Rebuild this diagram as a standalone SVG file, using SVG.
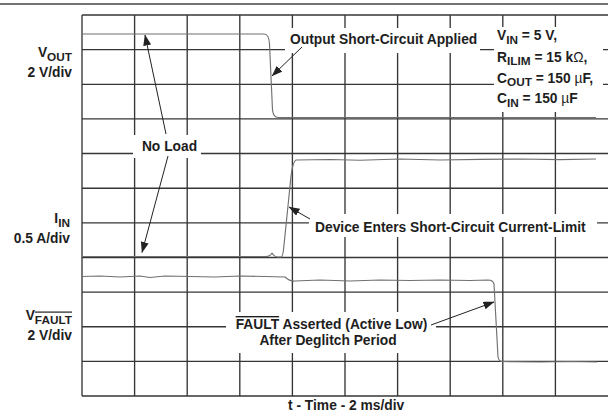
<svg xmlns="http://www.w3.org/2000/svg" width="608" height="417" viewBox="0 0 608 417">
<style>
text{font-family:"Liberation Sans",Arial,Helvetica,sans-serif;font-weight:bold;font-size:13.8px;fill:#1e1e1e}
.sub{font-size:11.8px}
.sym{font-weight:normal}
.grid line{stroke:#363636;stroke-width:1.35}
.bg{fill:#fff}
.trace{fill:none;stroke:#707070;stroke-width:1.15;stroke-linejoin:round}
.arrow{stroke:#222;stroke-width:1;fill:none;marker-end:url(#ah)}
</style>
<defs>
<marker id="ah" markerUnits="userSpaceOnUse" markerWidth="11" markerHeight="9" refX="10.5" refY="4" orient="auto">
<path d="M0,0 L11,4 L0,8 z" fill="#222"/>
</marker>
</defs>
<rect width="608" height="417" fill="#fff"/>
<line x1="0" y1="4" x2="608" y2="4" stroke="#444" stroke-width="1.5"/>
<g id="grid" class="grid">
<line x1="82" y1="15" x2="82" y2="396"/>
<line x1="134.6" y1="15" x2="134.6" y2="396"/>
<line x1="187.2" y1="15" x2="187.2" y2="396"/>
<line x1="239.8" y1="15" x2="239.8" y2="396"/>
<line x1="292.4" y1="15" x2="292.4" y2="396"/>
<line x1="345" y1="15" x2="345" y2="396"/>
<line x1="397.6" y1="15" x2="397.6" y2="396"/>
<line x1="450.2" y1="15" x2="450.2" y2="396"/>
<line x1="502.8" y1="15" x2="502.8" y2="396"/>
<line x1="555.4" y1="15" x2="555.4" y2="396"/>
<line x1="82" y1="15" x2="608" y2="15"/>
<line x1="82" y1="49.6" x2="608" y2="49.6"/>
<line x1="82" y1="84.3" x2="608" y2="84.3"/>
<line x1="82" y1="118.9" x2="608" y2="118.9"/>
<line x1="82" y1="153.5" x2="608" y2="153.5"/>
<line x1="82" y1="188.2" x2="608" y2="188.2"/>
<line x1="82" y1="222.8" x2="608" y2="222.8"/>
<line x1="82" y1="257.5" x2="608" y2="257.5"/>
<line x1="82" y1="292.1" x2="608" y2="292.1"/>
<line x1="82" y1="326.7" x2="608" y2="326.7"/>
<line x1="82" y1="361.4" x2="608" y2="361.4"/>
<line x1="82" y1="396" x2="608" y2="396"/>
</g>
<g id="label-backgrounds">
<rect class="bg" x="285" y="28" width="195" height="25"/>
<rect class="bg" x="494" y="27" width="109" height="85"/>
<rect class="bg" x="133" y="135" width="68" height="23"/>
<rect class="bg" x="309" y="214" width="288" height="23"/>
<rect class="bg" x="226" y="312" width="210" height="41"/>
</g>
<g id="traces">
<path id="vout-trace" class="trace" d="M82,34 H264 Q269,34 269.5,44 L272.5,110 Q273.5,117.5 278,117.5 H596"/>
<path id="iin-trace" class="trace" d="M82,256.5 H266 Q270,256.5 272,253 Q274,256.5 277,257 L281,257 Q283,257 284,245 L288,206 L291,176 Q293,161 296,160 L330,159.5 L360,160.2 L400,159 L440,160 L480,159.4 L520,159 L560,159.6 L596,159"/>
<path id="vfault-trace" class="trace" d="M82,276.5 L100,276 L120,277 L140,276 L150,277.5 L165,276 L190,276.5 L215,277 L240,276 L265,276.5 L285,277 Q290,281.5 295,281 L320,280 L350,281 L380,280 L410,280.5 L440,280 L470,280.5 L488,280 Q493,280 494,284 L498,357 Q499,361.5 502,361.5 L540,362 L570,361.5 L597,362"/>
</g>
<g id="connectors">
<line class="arrow" x1="166" y1="134" x2="145" y2="35"/>
<line class="arrow" x1="168" y1="156" x2="142" y2="252.5"/>
<line class="arrow" x1="302" y1="47" x2="272" y2="76"/>
<line class="arrow" x1="310" y1="219" x2="289" y2="207"/>
<line class="arrow" x1="431" y1="325" x2="494" y2="302"/>
</g>
<g id="axis-labels">
<text x="72" y="57" text-anchor="end">V<tspan class="sub" dy="3.5">OUT</tspan></text>
<text x="72" y="77" text-anchor="end">2 V/div</text>
<text x="70" y="223" text-anchor="end">I<tspan class="sub" dy="3.5">IN</tspan></text>
<text x="70" y="243" text-anchor="end">0.5 A/div</text>
<text x="72" y="320" text-anchor="end">V<tspan class="sub" dy="3.5" text-decoration="overline">FAULT</tspan></text>
<text x="72" y="340" text-anchor="end">2 V/div</text>
<text x="288" y="410">t - Time - 2 ms/div</text>
</g>
<g id="node-no-load"><text x="169.5" y="151" text-anchor="middle">No Load</text></g>
<g id="node-output-short"><text x="290" y="43.5">Output Short-Circuit Applied</text></g>
<g id="node-params">
<text x="497" y="40">V<tspan class="sub" dy="3.5">IN</tspan><tspan dy="-3.5"> = 5 V,</tspan></text>
<text x="497" y="61.5">R<tspan class="sub" dy="3.5">ILIM</tspan><tspan dy="-3.5"> = 15 k</tspan><tspan class="sym">Ω</tspan>,</text>
<text x="497" y="82.5">C<tspan class="sub" dy="3.5">OUT</tspan><tspan dy="-3.5"> = 150 </tspan><tspan class="sym">µ</tspan>F,</text>
<text x="497" y="103">C<tspan class="sub" dy="3.5">IN</tspan><tspan dy="-3.5"> = 150 </tspan><tspan class="sym">µ</tspan>F</text>
</g>
<g id="node-device-enters"><text x="315" y="232">Device Enters Short-Circuit Current-Limit</text></g>
<g id="node-fault">
<text x="331.5" y="329" text-anchor="middle"><tspan text-decoration="overline">FAULT</tspan> Asserted (Active Low)</text>
<text x="328" y="345" text-anchor="middle">After Deglitch Period</text>
</g>
</svg>
